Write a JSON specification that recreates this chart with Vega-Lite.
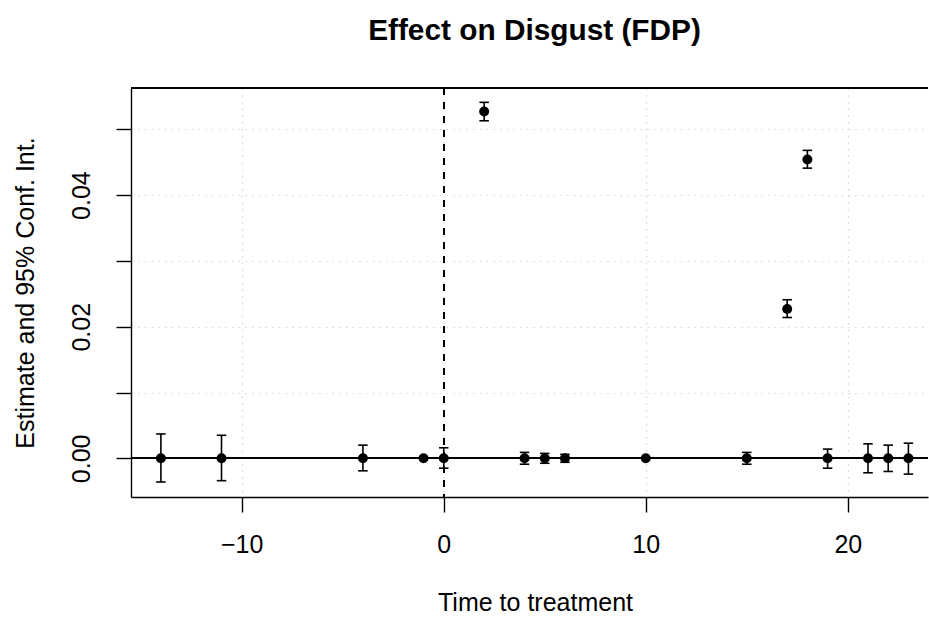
{
  "$schema": "https://vega.github.io/schema/vega-lite/v6.json",
  "width": 797,
  "height": 409,
  "autosize": "none",
  "padding": {"left": 131, "top": 88, "right": 1, "bottom": 123},
  "background": "white",
  "config": {
    "view": {"stroke": null},
    "font": "Liberation Sans",
    "axis": {
      "domainColor": "black",
      "domainWidth": 1.4,
      "tickColor": "black",
      "tickWidth": 1.4,
      "tickSize": 15,
      "labelFont": "Liberation Sans",
      "labelFontSize": 25,
      "labelColor": "black",
      "titleFont": "Liberation Sans",
      "titleFontSize": 25,
      "titleFontWeight": "normal",
      "titleColor": "black",
      "gridColor": "#d3d3d3",
      "gridDash": [1.5, 5.2],
      "gridWidth": 1.2,
      "labelOverlap": false
    }
  },
  "title": {
    "text": "Effect on Disgust (FDP)",
    "font": "Liberation Sans",
    "fontSize": 29.8,
    "fontWeight": "bold",
    "color": "black",
    "anchor": "middle",
    "baseline": "alphabetic",
    "offset": 18,
    "dx": 5
  },
  "data": {
    "values": [
      {"t": -14, "est": 0, "lo": -0.0036, "hi": 0.0037},
      {"t": -11, "est": 0, "lo": -0.0034, "hi": 0.0035},
      {"t": -4, "est": 0, "lo": -0.0019, "hi": 0.0020},
      {"t": -1, "est": 0, "lo": null, "hi": null},
      {"t": 0, "est": 0, "lo": -0.0015, "hi": 0.0016},
      {"t": 2, "est": 0.0527, "lo": 0.0513, "hi": 0.0541},
      {"t": 4, "est": 0, "lo": -0.0009, "hi": 0.0009},
      {"t": 5, "est": 0, "lo": -0.00075, "hi": 0.00075},
      {"t": 6, "est": 0, "lo": -0.0006, "hi": 0.0006},
      {"t": 10, "est": 0, "lo": null, "hi": null},
      {"t": 15, "est": 0, "lo": -0.0009, "hi": 0.0009},
      {"t": 17, "est": 0.0227, "lo": 0.0214, "hi": 0.0241},
      {"t": 18, "est": 0.0454, "lo": 0.0441, "hi": 0.0468},
      {"t": 19, "est": 0, "lo": -0.0015, "hi": 0.0014},
      {"t": 21, "est": 0, "lo": -0.0022, "hi": 0.0022},
      {"t": 22, "est": 0, "lo": -0.0020, "hi": 0.0020},
      {"t": 23, "est": 0, "lo": -0.0024, "hi": 0.0023}
    ]
  },
  "encoding": {
    "x": {
      "field": "t",
      "type": "quantitative",
      "scale": {"domain": [-15.48, 23.97], "nice": false, "zero": false},
      "axis": {
        "values": [-10, 0, 10, 20],
        "grid": true,
        "format": "d",
        "labelBaseline": "alphabetic",
        "labelPadding": 40,
        "title": "Time to treatment",
        "titleBaseline": "alphabetic",
        "titleAnchor": "middle",
        "titleX": 404,
        "titleY": 113
      }
    },
    "y": {
      "type": "quantitative",
      "scale": {"domain": [-0.00588, 0.05628], "nice": false, "zero": false},
      "axis": {
        "values": [0, 0.01, 0.02, 0.03, 0.04, 0.05],
        "grid": true,
        "labelExpr": "round(datum.value * 100) % 2 == 0 ? format(datum.value, '.2f') : ''",
        "labelAngle": -90,
        "labelAlign": "center",
        "labelBaseline": "alphabetic",
        "labelPadding": 27,
        "title": "Estimate and 95% Conf. Int.",
        "titleAngle": -90,
        "titleAlign": "center",
        "titleBaseline": "alphabetic",
        "titleX": -98,
        "titleY": 204.5
      }
    }
  },
  "layer": [
    {
      "mark": {"type": "rule", "color": "black", "strokeWidth": 1.4},
      "encoding": {"x": null, "y": {"datum": 0, "type": "quantitative"}}
    },
    {
      "mark": {"type": "rule", "color": "black", "strokeWidth": 1.4},
      "encoding": {"x": null, "y": {"datum": 0.05628, "type": "quantitative"}}
    },
    {
      "mark": {"type": "rule", "color": "black", "strokeWidth": 1.4, "strokeDash": [7, 7]},
      "encoding": {"y": null, "x": {"datum": 0, "type": "quantitative"}}
    },
    {
      "transform": [{"filter": "datum.lo != null"}],
      "mark": {"type": "rule", "color": "black", "strokeWidth": 1.6},
      "encoding": {"y": {"field": "lo", "type": "quantitative"}, "y2": {"field": "hi"}}
    },
    {
      "transform": [{"filter": "datum.lo != null"}],
      "mark": {"type": "tick", "orient": "horizontal", "color": "black", "size": 9.5, "thickness": 1.6, "opacity": 1},
      "encoding": {"y": {"field": "lo", "type": "quantitative"}}
    },
    {
      "transform": [{"filter": "datum.hi != null"}],
      "mark": {"type": "tick", "orient": "horizontal", "color": "black", "size": 9.5, "thickness": 1.6, "opacity": 1},
      "encoding": {"y": {"field": "hi", "type": "quantitative"}}
    },
    {
      "mark": {"type": "circle", "color": "black", "opacity": 1, "size": 100},
      "encoding": {"y": {"field": "est", "type": "quantitative"}}
    }
  ]
}
